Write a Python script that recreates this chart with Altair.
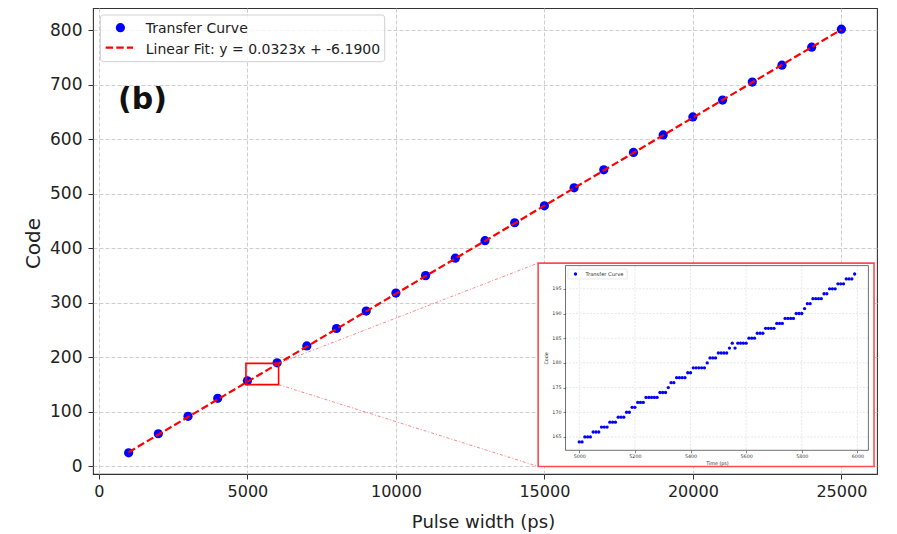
import altair as alt
import pandas as pd

# ---------------- data ----------------
pulse_width = [1000, 2000, 3000, 4000, 5000, 6000, 7000, 8000, 9000, 10000,
               11000, 12000, 13000, 14000, 15000, 16000, 17000, 18000, 19000,
               20000, 21000, 22000, 23000, 24000, 25000]
code = [25, 60, 92, 125, 157, 190, 221, 253, 285, 318, 350, 382, 414, 447,
        478, 511, 544, 576, 608, 641, 672, 705, 736, 769, 802]
fit_x = [1000, 25000]
fit_y = [26.11, 801.31]
legend_labels = ["Transfer Curve", "Linear Fit: y = 0.0323x + -6.1900"]
panel_label = "(b)"

zoom_box_x = [4950, 6050]
zoom_box_y = [150, 189]
inset_box_x = [14790, 26100]
inset_box_y = [0, 373]

inset_time = list(range(5000, 6000, 10))
inset_code = [164, 164, 165, 165, 165, 166, 166, 166, 167, 167, 167, 168, 168, 168,
              169, 169, 169, 170, 170, 171, 171, 172, 172, 172, 173, 173, 173, 173,
              173, 174, 174, 174, 175, 176, 176, 177, 177, 177, 177, 178, 178, 179,
              179, 179, 179, 179, 180, 181, 181, 181, 182, 182, 182, 182, 183, 184,
              183, 184, 184, 184, 184, 185, 185, 185, 186, 186, 186, 187, 187, 187,
              187, 188, 188, 188, 189, 189, 189, 189, 190, 190, 190, 191, 192, 192,
              193, 193, 193, 193, 194, 194, 195, 195, 195, 196, 196, 196, 197, 197,
              197, 198]
inset_legend = ["Transfer Curve"]

main_x_ticks = [0, 5000, 10000, 15000, 20000, 25000]
main_y_ticks = [0, 100, 200, 300, 400, 500, 600, 700, 800]
inset_x_ticks = [5000, 5200, 5400, 5600, 5800, 6000]
inset_y_ticks = [165, 170, 175, 180, 185, 190, 195]

# ---------------- layout ----------------
W, H = 784, 466
FONT = "DejaVu Sans"
X_DOMAIN = [-200, 26200]
Y_DOMAIN = [-13.85, 840.85]
IX_DOMAIN = [4950.5, 6039.5]
IY_DOMAIN = [162.3, 199.7]
IX_RANGE = [472.5, 775.4]
IY_RANGE = [442.3, 257.6]

one = pd.DataFrame({"a": [0]})

xs = alt.Scale(domain=X_DOMAIN, nice=False, zero=False)
ys = alt.Scale(domain=Y_DOMAIN, nice=False, zero=False)
x_axis = alt.Axis(values=main_x_ticks, format="d", title="Pulse width (ps)",
                  grid=True, gridDash=[4, 2], gridColor="#c8c8c8", gridWidth=0.9,
                  domain=False, tickSize=5, tickColor="#333333", tickWidth=1,
                  labelFontSize=16, labelColor="#222222", labelPadding=4,
                  labelFlush=False, labelFont=FONT,
                  titleFontSize=18, titleFont=FONT, titleFontWeight="normal",
                  titleColor="#222222", titleX=390, titleY=53,
                  titleBaseline="alphabetic", titleAlign="center", orient="bottom")
y_axis = alt.Axis(values=main_y_ticks, format="d", title="Code",
                  grid=True, gridDash=[4, 2], gridColor="#c8c8c8", gridWidth=0.9,
                  domain=False, tickSize=5, tickColor="#333333", tickWidth=1,
                  labelFontSize=17, labelColor="#222222", labelPadding=6,
                  labelFont=FONT,
                  titleFontSize=20, titleFont=FONT, titleFontWeight="normal",
                  titleColor="#222222", titleX=-60, titleY=235, titleAngle=-90,
                  titleBaseline="middle", titleAlign="center", orient="left")

X = alt.X("x:Q", scale=xs, axis=x_axis)
Y = alt.Y("y:Q", scale=ys, axis=y_axis)

main_df = pd.DataFrame({"x": pulse_width, "y": code})
fit_df = pd.DataFrame({"x": fit_x, "y": fit_y})
zoom_df = pd.DataFrame({"x": [zoom_box_x[0]], "x2": [zoom_box_x[1]],
                        "y": [zoom_box_y[0]], "y2": [zoom_box_y[1]]})
box_df = pd.DataFrame({"x": [inset_box_x[0]], "x2": [inset_box_x[1]],
                       "y": [inset_box_y[0]], "y2": [inset_box_y[1]]})
conn_df = pd.DataFrame({"x": [zoom_box_x[1], zoom_box_x[1]],
                        "y": [zoom_box_y[1], zoom_box_y[0]],
                        "x2": [inset_box_x[0], inset_box_x[0]],
                        "y2": [inset_box_y[1], inset_box_y[0]]})

points = alt.Chart(main_df).mark_circle(size=85, color="#0000ff", opacity=1).encode(x=X, y=Y)
fit_line = alt.Chart(fit_df).mark_line(color="#ff0000", strokeDash=[7.4, 3.2],
                                       strokeWidth=2.2).encode(x=X, y=Y)
zoom_rect = alt.Chart(zoom_df).mark_rect(fillOpacity=0, stroke="#ff0000",
                                         strokeWidth=1.6).encode(
    x=X, x2="x2:Q", y=Y, y2="y2:Q")
connectors = alt.Chart(conn_df).mark_rule(color="#ff3333", strokeWidth=1,
                                          strokeDash=[3, 2, 1, 2], opacity=0.6).encode(
    x=X, x2="x2:Q", y=Y, y2="y2:Q")
inset_box = alt.Chart(box_df).mark_rect(fill="white", stroke="#ff4d4d",
                                        strokeWidth=1.6).encode(
    x=X, x2="x2:Q", y=Y, y2="y2:Q")

# main legend (pixel placement)
leg_box = alt.Chart(one).mark_rect(fill="white", fillOpacity=0.8, stroke="#d0d0d0",
                                   strokeWidth=1, cornerRadius=3).encode(
    x=alt.value(7.4), x2=alt.value(291.7), y=alt.value(7), y2=alt.value(53.7))
leg_dot = alt.Chart(one).mark_circle(size=85, color="#0000ff", opacity=1).encode(
    x=alt.value(27.4), y=alt.value(19.7))
leg_line = alt.Chart(one).mark_rule(color="#ff0000", strokeDash=[7.4, 3.2],
                                    strokeWidth=2.2).encode(
    x=alt.value(12.7), x2=alt.value(40), y=alt.value(39.7))
leg_t1 = alt.Chart(one).mark_text(text=legend_labels[0], align="left",
                                  baseline="alphabetic", fontSize=14, font=FONT,
                                  color="#222222").encode(
    x=alt.value(52.7), y=alt.value(24.9))
leg_t2 = alt.Chart(one).mark_text(text=legend_labels[1], align="left",
                                  baseline="alphabetic", fontSize=14, font=FONT,
                                  color="#222222").encode(
    x=alt.value(52.7), y=alt.value(45.7))
label_b = alt.Chart(one).mark_text(text=panel_label, align="left",
                                   baseline="alphabetic", fontSize=30,
                                   fontWeight="bold", font=FONT,
                                   color="#111111").encode(
    x=alt.value(25), y=alt.value(100.5))

main = alt.layer(points, fit_line, zoom_rect, connectors, inset_box,
                 leg_box, leg_dot, leg_line, leg_t1, leg_t2, label_b)

# ---------------- inset ----------------
ixs = alt.Scale(domain=IX_DOMAIN, range=IX_RANGE, nice=False, zero=False)
iys = alt.Scale(domain=IY_DOMAIN, range=IY_RANGE, nice=False, zero=False)
ix_axis = alt.Axis(orient="bottom", offset=IY_RANGE[0] - H, values=inset_x_ticks,
                   format="d", grid=False, domain=False, tickSize=2.5,
                   tickColor="#333333", tickWidth=0.6, labelFontSize=4.8,
                   labelColor="#333333", labelPadding=1, labelFont=FONT,
                   title="Time (ps)", titleFontSize=4.8, titleFont=FONT,
                   titleFontWeight="normal", titleColor="#333333",
                   titlePadding=1.5, zindex=1)
iy_axis = alt.Axis(orient="left", offset=-IX_RANGE[0], values=inset_y_ticks,
                   format="d", grid=False, domain=False, tickSize=2.5,
                   tickColor="#333333", tickWidth=0.6, labelFontSize=4.8,
                   labelColor="#333333", labelPadding=2, labelFont=FONT,
                   title="Code", titleFontSize=4.8, titleFont=FONT,
                   titleFontWeight="normal", titleColor="#333333",
                   titlePadding=3, zindex=1)
IX = alt.X("x:Q", scale=ixs, axis=ix_axis)
IY = alt.Y("y:Q", scale=iys, axis=iy_axis)

inset_df = pd.DataFrame({"x": inset_time, "y": inset_code})
igx = pd.DataFrame({"x": inset_x_ticks})
igy = pd.DataFrame({"y": inset_y_ticks})

igrid_x = alt.Chart(igx).mark_rule(color="#d6d6d6", strokeWidth=0.6,
                                   strokeDash=[2, 1.5]).encode(
    x=IX, y=alt.value(IY_RANGE[1]), y2=alt.value(IY_RANGE[0]))
igrid_y = alt.Chart(igy).mark_rule(color="#d6d6d6", strokeWidth=0.6,
                                   strokeDash=[2, 1.5]).encode(
    y=IY, x=alt.value(IX_RANGE[0]), x2=alt.value(IX_RANGE[1]))
ipoints = alt.Chart(inset_df).mark_circle(size=11, color="#0000ff", opacity=1).encode(
    x=IX, y=IY)
iframe = alt.Chart(one).mark_rect(fillOpacity=0, stroke="#333333", strokeWidth=0.7).encode(
    x=alt.value(IX_RANGE[0]), x2=alt.value(IX_RANGE[1]),
    y=alt.value(IY_RANGE[1]), y2=alt.value(IY_RANGE[0]))
ileg_box = alt.Chart(one).mark_rect(fill="white", fillOpacity=0.8, stroke="#d0d0d0",
                                    strokeWidth=0.5, cornerRadius=1).encode(
    x=alt.value(474.9), x2=alt.value(534.2), y=alt.value(261), y2=alt.value(271))
ileg_dot = alt.Chart(one).mark_circle(size=11, color="#0000ff", opacity=1).encode(
    x=alt.value(482.5), y=alt.value(266))
ileg_text = alt.Chart(one).mark_text(text=inset_legend[0], align="left",
                                     baseline="middle", fontSize=5.2, font=FONT,
                                     color="#333333").encode(
    x=alt.value(492.6), y=alt.value(266))

inset = alt.layer(igrid_x, igrid_y, ipoints, iframe, ileg_box, ileg_dot, ileg_text)

chart = alt.layer(main, inset).resolve_scale(
    x="independent", y="independent"
).properties(
    width=W, height=H,
    padding={"left": 85, "top": 0, "right": 8, "bottom": 60},
    autosize=alt.AutoSizeParams(type="none"),
).configure_view(stroke="#333333", strokeWidth=1.1)

chart.save("out.html", embed_options={"renderer": "svg", "actions": False})
